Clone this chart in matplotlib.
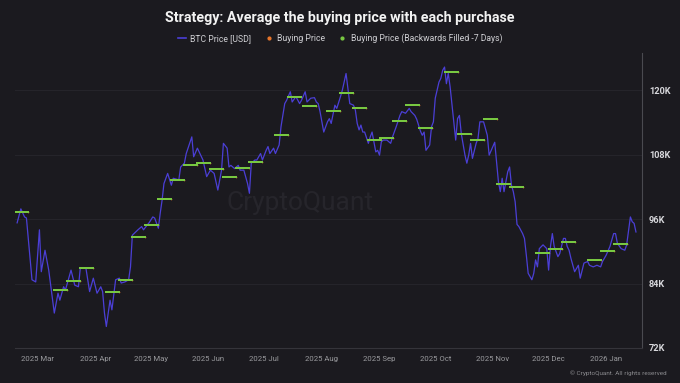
import numpy as np
import pandas as pd
import matplotlib
matplotlib.use('Agg')
import matplotlib.pyplot as plt
import matplotlib.dates as mdates
from matplotlib.lines import Line2D
from matplotlib.ticker import FuncFormatter

plt.rcParams['font.family'] = ['Roboto', 'DejaVu Sans']

# BTC price (USD, thousands)
btc_dates = [
    '2025-02-18', '2025-02-20', '2025-02-22', '2025-02-23', '2025-02-26', '2025-02-28',
    '2025-03-02', '2025-03-03', '2025-03-05', '2025-03-07', '2025-03-10', '2025-03-12',
    '2025-03-13', '2025-03-15', '2025-03-16', '2025-03-19', '2025-03-21', '2025-03-23',
    '2025-03-24', '2025-03-27', '2025-03-29', '2025-03-31', '2025-04-02', '2025-04-04',
    '2025-04-05', '2025-04-06', '2025-04-07', '2025-04-09', '2025-04-10', '2025-04-12',
    '2025-04-14', '2025-04-15', '2025-04-17', '2025-04-19', '2025-04-20', '2025-04-21',
    '2025-04-24', '2025-04-26', '2025-04-27', '2025-04-29', '2025-04-30', '2025-05-02',
    '2025-05-03', '2025-05-05', '2025-05-06', '2025-05-07', '2025-05-08', '2025-05-10',
    '2025-05-12', '2025-05-13', '2025-05-16', '2025-05-17', '2025-05-19', '2025-05-20',
    '2025-05-23', '2025-05-24', '2025-05-26', '2025-05-29', '2025-05-31', '2025-06-02',
    '2025-06-04', '2025-06-06', '2025-06-08', '2025-06-09', '2025-06-11', '2025-06-12',
    '2025-06-13', '2025-06-15', '2025-06-17', '2025-06-18', '2025-06-20', '2025-06-22',
    '2025-06-23', '2025-06-24', '2025-06-26', '2025-06-27', '2025-06-29', '2025-06-30',
    '2025-07-02', '2025-07-03', '2025-07-04', '2025-07-06', '2025-07-07', '2025-07-09',
    '2025-07-10', '2025-07-12', '2025-07-13', '2025-07-15', '2025-07-16', '2025-07-18',
    '2025-07-20', '2025-07-21', '2025-07-23', '2025-07-24', '2025-07-26', '2025-07-28',
    '2025-07-29', '2025-07-30', '2025-07-31', '2025-08-02', '2025-08-04', '2025-08-05',
    '2025-08-06', '2025-08-08', '2025-08-09', '2025-08-11', '2025-08-12', '2025-08-14',
    '2025-08-15', '2025-08-16', '2025-08-18', '2025-08-19', '2025-08-20', '2025-08-21',
    '2025-08-22', '2025-08-23', '2025-08-24', '2025-08-26', '2025-08-27', '2025-08-28',
    '2025-08-30', '2025-08-31', '2025-09-01', '2025-09-02', '2025-09-03', '2025-09-05',
    '2025-09-07', '2025-09-08', '2025-09-10', '2025-09-12', '2025-09-13', '2025-09-15',
    '2025-09-17', '2025-09-18', '2025-09-20', '2025-09-21', '2025-09-23', '2025-09-24',
    '2025-09-25', '2025-09-26', '2025-09-28', '2025-09-29', '2025-09-30', '2025-10-01',
    '2025-10-03', '2025-10-04', '2025-10-05', '2025-10-06', '2025-10-07', '2025-10-08',
    '2025-10-09', '2025-10-11', '2025-10-12', '2025-10-13', '2025-10-14', '2025-10-15',
    '2025-10-17', '2025-10-18', '2025-10-19', '2025-10-20', '2025-10-21', '2025-10-23',
    '2025-10-24', '2025-10-25', '2025-10-27', '2025-10-29', '2025-10-30', '2025-11-01',
    '2025-11-02', '2025-11-04', '2025-11-05', '2025-11-06', '2025-11-07', '2025-11-08',
    '2025-11-09', '2025-11-10', '2025-11-11', '2025-11-12', '2025-11-13', '2025-11-14',
    '2025-11-15', '2025-11-17', '2025-11-18', '2025-11-19', '2025-11-20', '2025-11-22',
    '2025-11-23', '2025-11-24', '2025-11-25', '2025-11-26', '2025-11-28', '2025-11-30',
    '2025-12-01', '2025-12-02', '2025-12-03', '2025-12-04', '2025-12-06', '2025-12-07',
    '2025-12-09', '2025-12-10', '2025-12-11', '2025-12-12', '2025-12-13', '2025-12-15',
    '2025-12-17', '2025-12-18', '2025-12-20', '2025-12-22', '2025-12-23', '2025-12-25',
    '2025-12-27', '2025-12-29', '2025-12-30', '2026-01-01', '2026-01-03', '2026-01-05',
    '2026-01-06', '2026-01-07', '2026-01-09', '2026-01-11', '2026-01-12', '2026-01-14',
    '2026-01-15', '2026-01-16', '2026-01-17',
]
btc_price_k = [
    95.3, 97.9, 96.4, 96.2, 84.7, 84.3,
    94.0, 86.2, 90.2, 86.5, 78.5, 82.2,
    80.9, 83.4, 82.8, 86.5, 83.7, 83.4,
    86.9, 86.9, 82.5, 85.0, 82.2, 83.4,
    82.5, 78.5, 76.0, 80.9, 79.1, 84.7,
    85.0, 84.1, 84.3, 84.7, 87.1, 93.0,
    94.0, 94.6, 94.0, 94.9, 95.3, 96.4,
    96.2, 94.3, 97.1, 99.5, 102.6, 104.5,
    102.3, 103.6, 103.3, 105.7, 106.4, 108.2,
    111.3, 107.6, 109.2, 107.0, 103.9, 105.1,
    104.5, 101.4, 105.1, 110.1, 109.2, 105.7,
    106.0, 105.4, 106.0, 105.1, 105.1, 102.6,
    100.8, 106.4, 107.0, 107.0, 108.2, 107.0,
    108.8, 109.5, 108.2, 109.2, 108.2, 109.8,
    113.2, 117.5, 118.1, 119.7, 117.8, 118.8,
    117.5, 118.1, 119.7, 117.8, 118.5, 118.6,
    117.8, 117.5, 116.0, 112.2, 114.1, 114.7,
    113.8, 117.2, 116.6, 118.8, 120.0, 123.1,
    120.3, 117.5, 117.2, 116.3, 113.8, 112.6,
    113.5, 112.2, 112.2, 110.1, 111.3, 112.2,
    108.5, 108.8, 107.9, 110.4, 110.7, 110.7,
    110.1, 111.3, 113.2, 115.3, 116.0, 115.7,
    116.6, 116.0, 115.3, 114.6, 112.4, 111.6,
    112.2, 108.8, 109.8, 113.2, 114.1, 118.5,
    121.5, 122.2, 123.7, 124.3, 121.2, 123.1,
    120.6, 114.1, 110.7, 114.7, 115.3, 111.9,
    107.9, 106.4, 107.9, 110.1, 107.3, 110.1,
    111.0, 114.1, 114.1, 111.6, 107.9, 109.5,
    110.3, 102.9, 101.1, 103.6, 101.1, 102.9,
    104.8, 105.7, 102.3, 101.1, 99.2, 95.0,
    94.6, 93.3, 92.4, 89.3, 85.9, 84.7,
    85.9, 88.4, 87.1, 90.5, 91.2, 90.5,
    86.5, 90.9, 93.3, 90.9, 89.0, 89.6,
    92.4, 92.4, 90.9, 90.2, 88.7, 86.2,
    87.4, 85.0, 87.8, 88.1, 87.4, 87.1,
    87.4, 87.1, 88.1, 89.3, 90.9, 93.3,
    93.3, 91.5, 90.5, 90.2, 91.2, 96.4,
    95.5, 95.2, 93.6,
]

# Strategy purchase dates and average buying price (USD, thousands)
buy_dates = [
    '2025-02-24', '2025-03-17', '2025-03-24', '2025-03-31', '2025-04-14', '2025-04-21',
    '2025-04-28', '2025-05-05', '2025-05-12', '2025-05-19', '2025-05-26', '2025-06-02',
    '2025-06-09', '2025-06-16', '2025-06-23', '2025-06-30', '2025-07-14', '2025-07-21',
    '2025-07-29', '2025-08-11', '2025-08-18', '2025-08-25', '2025-09-02', '2025-09-08',
    '2025-09-15', '2025-09-22', '2025-09-29', '2025-10-13', '2025-10-20', '2025-10-27',
    '2025-11-03', '2025-11-10', '2025-11-17', '2025-12-01', '2025-12-08', '2025-12-15',
    '2025-12-29', '2026-01-05', '2026-01-12',
]
buy_price_k = [
    97.3, 82.8, 84.5, 86.9, 82.4, 84.7,
    92.6, 94.9, 99.7, 103.3, 106.0, 106.4,
    105.3, 103.9, 105.6, 106.6, 111.6, 118.8,
    117.0, 116.1, 119.4, 116.6, 110.7, 111.0,
    114.3, 117.2, 112.9, 123.4, 111.8, 110.8,
    114.6, 102.5, 102.0, 89.7, 90.4, 91.8,
    88.3, 90.1, 91.4,
]
fill_days = 7

y_ticks = [72000, 84000, 96000, 108000, 120000]

bg = '#1b1a1f'
line_color = '#4b3fd6'
green = '#78c841'
orange = '#e8752a'

btc = pd.Series(np.array(btc_price_k) * 1000, index=pd.to_datetime(btc_dates))
buys = pd.Series(np.array(buy_price_k) * 1000, index=pd.to_datetime(buy_dates))

# backwards fill each purchase price over the 7 days before it
fill_x, fill_y = [], []
for d, p in buys.items():
    for day in pd.date_range(d - pd.Timedelta(days=fill_days), d):
        fill_x.append(day)
        fill_y.append(p)

fig = plt.figure(figsize=(6.8, 3.83), dpi=100, facecolor=bg)
ax = fig.add_axes([0.022, 0.0914, 0.922, 0.770], facecolor=bg)

ax.plot(btc.index, btc.values, color=line_color, lw=0.9, zorder=3)
ax.plot(buys.index, buys.values, ls='none', marker='o', ms=1.2, mew=0, color=orange, zorder=2)
ax.plot(fill_x, fill_y, ls='none', marker='s', ms=2.0, mew=0, color=green, zorder=4)

ax.set_xlim(pd.Timestamp('2025-02-16 20:00'), pd.Timestamp('2026-01-20 05:00'))
ax.set_ylim(72000, 126900)

ax.xaxis.set_major_locator(mdates.MonthLocator())
ax.xaxis.set_major_formatter(mdates.DateFormatter('%Y %b'))
ax.yaxis.tick_right()
ax.set_yticks(y_ticks)
ax.yaxis.set_major_formatter(FuncFormatter(lambda v, p: f'{int(v / 1000)}K'))

ax.tick_params(axis='x', length=0, pad=6, labelsize=5.6, labelcolor='#9a9a9e')
ax.tick_params(axis='y', length=0, pad=5, labelsize=6.6, labelcolor='#d8d8dc')
for lab in ax.get_yticklabels():
    lab.set_fontweight('bold')

ax.grid(axis='y', color='#25242a', lw=0.8)
for side in ['top', 'left']:
    ax.spines[side].set_visible(False)
ax.spines['right'].set_color('#4a4a50')
ax.spines['bottom'].set_color('#35343a')
ax.spines['right'].set_linewidth(0.8)
ax.spines['bottom'].set_linewidth(0.8)

ax.text(0.455, 0.49, 'CryptoQuant', transform=ax.transAxes, ha='center', va='center',
        fontsize=19, color='#26252b', zorder=1)

fig.text(0.5, 0.953, 'Strategy: Average the buying price with each purchase',
         ha='center', va='center', fontsize=10.3, fontweight='bold', color='#f2f2f2')

handles = [
    Line2D([], [], color=line_color, lw=1.2),
    Line2D([], [], ls='none', marker='o', ms=2.0, color=orange),
    Line2D([], [], ls='none', marker='o', ms=2.0, color=green),
]
labels = ['BTC Price [USD]', 'Buying Price', 'Buying Price (Backwards Filled -7 Days)']
fig.legend(handles, labels, loc='center', bbox_to_anchor=(0.5, 0.9), ncol=3, frameon=False,
           fontsize=6.2, labelcolor='#d0d0d4', handlelength=0.9, handletextpad=0.5,
           columnspacing=1.6)

fig.text(0.981, 0.026, '© CryptoQuant. All rights reserved', ha='right', va='center',
         fontsize=4.6, color='#8a8a8e')

fig.savefig('out.png', dpi=100, facecolor=bg)
